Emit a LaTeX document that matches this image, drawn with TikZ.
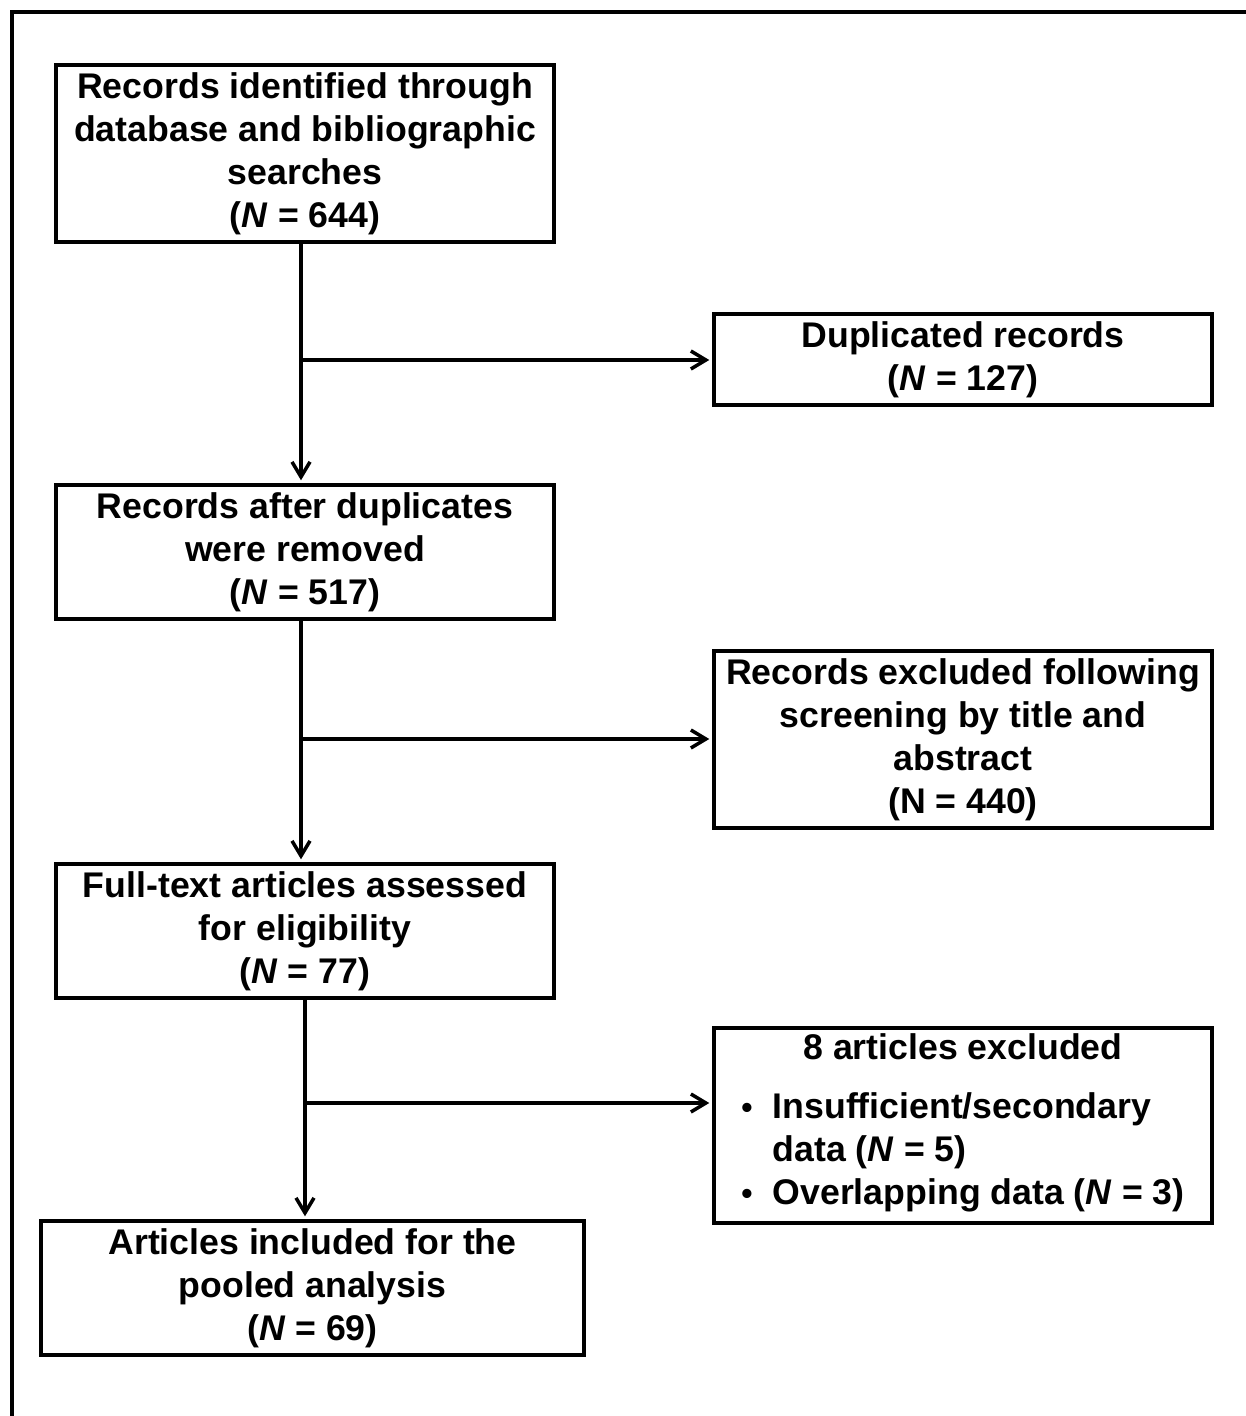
\documentclass[tikz,border=0pt]{standalone}
\usepackage{fontspec}
\setmainfont{Liberation Sans}
\usetikzlibrary{arrows.meta, positioning}

\tikzset{
  box/.style={draw, line width=2pt, align=center, inner sep=0pt,
    font=\fontsize{20.3}{24.4}\selectfont\bfseries,
    execute at begin node={\rule{0pt}{0.68cm}}},
  arr/.style={line width=2pt, -{Straight Barb[length=0.3cm, width=0.36cm]}, shorten >=0.06cm},
}
\newcommand{\bul}{\scalebox{0.9}{\textbullet}}

\begin{document}
\begin{tikzpicture}[x=0.02cm, y=-0.02cm]
    \useasboundingbox (0,0) rectangle (1246,1416);
    \clip (0,0) rectangle (1246,1416);

    % Frame
    \draw[line width=1.8pt] (12,1430) -- (12,12) -- (1260,12);

    % Main column
    \node[box, minimum width=9.96cm, minimum height=3.54cm] (ident) at (305,153.5)
      {Records identified through\\database and bibliographic\\searches\\(\textit{N} = 644)};
    \node[box, minimum width=9.96cm, minimum height=2.68cm] (dedup) at (305,552)
      {Records after duplicates\\were removed\\(\textit{N} = 517)};
    \node[box, minimum width=9.96cm, minimum height=2.68cm] (fulltext) at (305,931)
      {Full-text articles assessed\\for eligibility\\(\textit{N} = 77)};
    \node[box, minimum width=10.86cm, minimum height=2.68cm] (pooled) at (312.5,1288)
      {Articles included for the\\pooled analysis\\(\textit{N} = 69)};

    % Exclusions
    \node[box, minimum width=9.96cm, minimum height=1.82cm] (dup) at (963,359.5)
      {Duplicated records\\(\textit{N} = 127)};
    \node[box, minimum width=9.96cm, minimum height=3.54cm] (screen) at (963,739.5)
      {Records excluded following\\screening by title and\\abstract\\(N = 440)};
    \node[box, minimum width=9.96cm, minimum height=3.90cm] (excl) at (963,1125.5)
      {8 articles excluded\\[0.54cm]
       \begin{tabular}{@{}c@{\hspace{0.4cm}}l@{}}
         \bul & Insufficient/secondary\\
              & data (\textit{N} = 5)\\
         \bul & Overlapping data (\textit{N} = 3)
       \end{tabular}};

    % Arrows down
    \draw[arr] ([xshift=-0.08cm]ident.south) -- ([xshift=-0.08cm]dedup.north);
    \draw[arr] ([xshift=-0.08cm]dedup.south) -- ([xshift=-0.08cm]fulltext.north);
    \draw[arr] (fulltext.south) -- (fulltext.south |- pooled.north);

    % Side branches
    \coordinate (b1) at (301,360);
    \coordinate (b2) at (301,739);
    \coordinate (b3) at (305,1103);
    \draw[arr] (b1) -- (b1 -| dup.west);
    \draw[arr] (b2) -- (b2 -| screen.west);
    \draw[arr] (b3) -- (b3 -| excl.west);
\end{tikzpicture}
\end{document}
